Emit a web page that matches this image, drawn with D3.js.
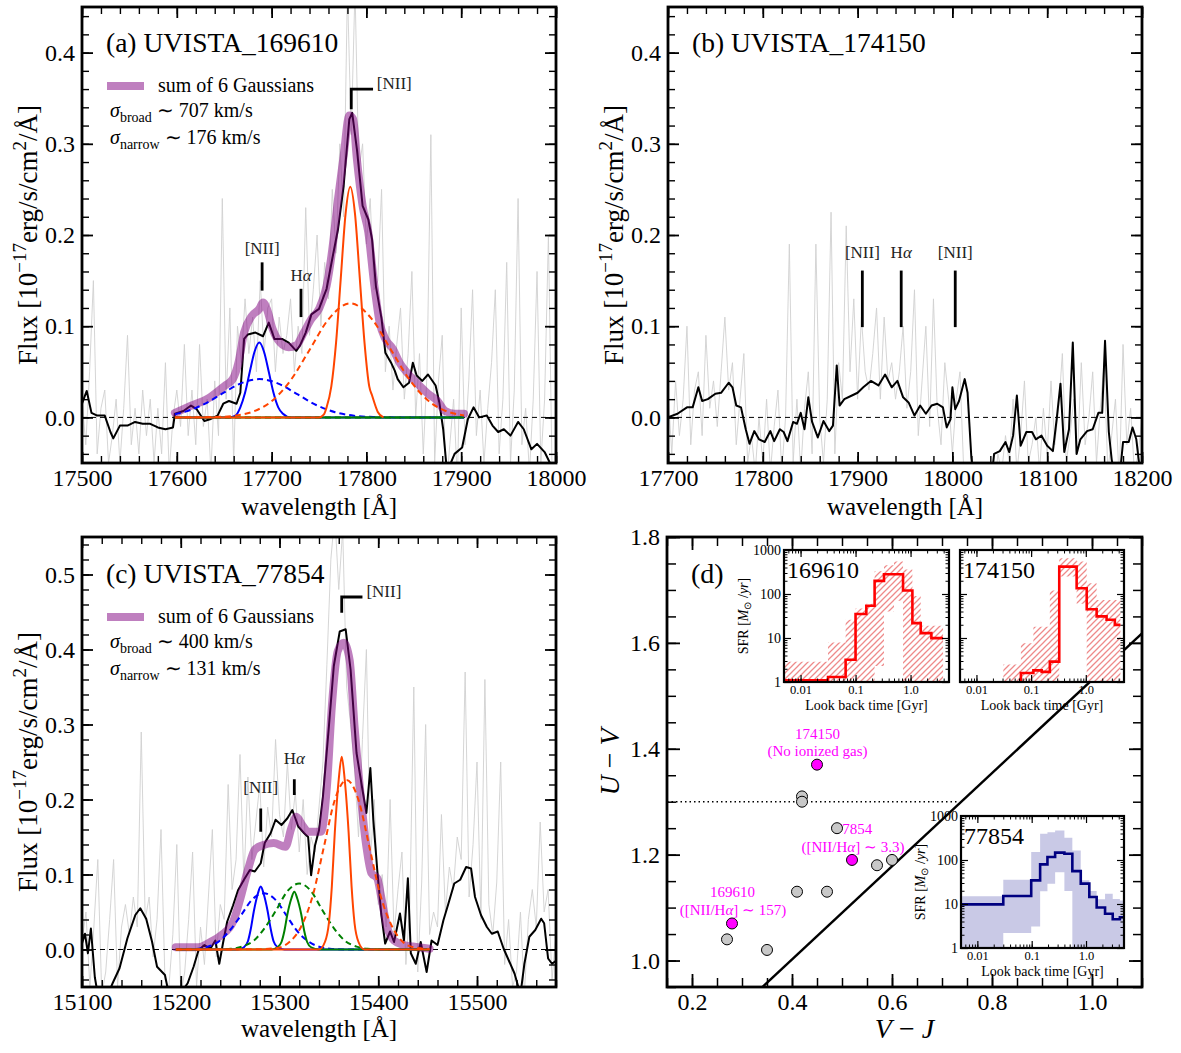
<!DOCTYPE html>
<html>
<head>
<meta charset="utf-8">
<script src="https://cdn.jsdelivr.net/npm/d3@7"></script>
<style>
  body { margin: 0; background: #fff; }
  svg text { font-family: "Liberation Serif", "Times New Roman", serif; }
</style>
</head>
<body>
<svg id="fig" width="1181" height="1053"></svg>
<script>
// ---------- data ----------
const greyStep = 4;
// (a) UVISTA_169610, raw spectrum starting at 17500 A
const greyA0 = 17500;
const greyA = [0.02,-0.03,0.05,0.15,-0.04,0.01,0.03,-0.05,-0.02,0.02,
  -0.05,0.01,0.09,-0.03,0.01,-0.04,0.03,-0.02,0.02,-0.05,
  0.01,-0.04,0.06,-0.06,0.00,0.03,-0.01,0.08,-0.02,0.03,
  -0.03,0.08,-0.01,0.02,-0.06,0.04,-0.02,0.24,0.02,0.12,
  -0.05,0.10,0.06,0.13,0.07,0.11,0.05,0.15,0.07,0.12,
  0.13,0.05,0.11,0.07,0.09,0.13,0.05,0.10,0.07,0.23,
  0.09,0.14,0.20,0.10,0.17,0.13,0.25,0.18,0.30,0.22,
  0.47,0.31,0.47,0.27,0.30,0.19,0.24,0.14,0.15,0.25,
  0.05,0.10,0.03,0.08,0.12,0.02,0.07,0.16,0.00,0.07,
  -0.04,0.05,0.31,-0.05,0.04,0.09,-0.08,-0.03,0.02,-0.07,
  0.12,-0.03,0.04,0.14,-0.02,0.03,-0.05,0.01,0.06,0.14,
  -0.04,0.02,0.17,-0.05,0.03,0.24,-0.03,0.01,-0.06,0.02,
  0.16,-0.05,0.02,0.20,-0.07,-0.03];
const blackA = [[17500,0.015],[17505,0.029],[17510,0.005],[17516,0.002],[17524,0.002],[17530,-0.016],[17533,-0.023],
  [17540,-0.009],[17548,-0.009],[17556,-0.005],[17564,-0.007],[17572,-0.007],[17580,-0.011],[17588,-0.013],[17596,-0.011],
  [17598,0.004],[17607,0.007],[17615,0.013],[17621,0.009],[17629,-0.004],[17635,-0.002],[17643,0.002],[17649,0.015],
  [17655,0.018],[17663,0.015],[17667,0.027],[17671,0.086],[17675,0.091],[17683,0.093],[17691,0.089],[17697,0.104],
  [17703,0.086],[17711,0.086],[17718,0.082],[17726,0.073],[17730,0.079],[17736,0.093],[17742,0.113],[17750,0.119],
  [17758,0.141],[17764,0.174],[17770,0.206],[17776,0.254],[17782,0.327],[17785,0.334],[17790,0.294],[17796,0.232],
  [17802,0.217],[17806,0.195],[17810,0.144],[17816,0.108],[17820,0.071],[17826,0.060],[17830,0.051],[17833,0.042],
  [17839,0.033],[17845,0.038],[17849,0.060],[17853,0.046],[17859,0.040],[17865,0.047],[17873,0.035],[17877,0.016],
  [17881,-0.013],[17885,-0.06],[17893,-0.04],[17901,-0.033],[17907,-0.002],[17913,0.011],[17919,0],[17927,0.002],
  [17933,-0.009],[17939,-0.016],[17945,-0.013],[17952,-0.020],[17960,-0.005],[17966,-0.013],[17974,-0.035],
  [17980,-0.029],[17988,-0.038],[17996,-0.055],[18000,-0.05]];
const sumA = [[17598,0.005],[17611,0.011],[17635,0.022],[17651,0.035],[17659,0.042],[17665,0.060],[17671,0.093],
  [17679,0.111],[17687,0.119],[17691,0.126],[17695,0.119],[17701,0.097],[17709,0.082],[17718,0.077],[17726,0.079],
  [17734,0.093],[17742,0.108],[17750,0.119],[17758,0.144],[17764,0.184],[17770,0.239],[17776,0.287],[17782,0.331],
  [17786,0.327],[17790,0.283],[17796,0.232],[17802,0.203],[17808,0.148],[17814,0.104],[17820,0.086],[17828,0.075],
  [17835,0.060],[17843,0.049],[17853,0.038],[17865,0.026],[17875,0.018],[17883,0.007],[17893,0.004],[17903,0.004]];
const blueNarrowA = [[17598,0],[17655,0],[17662,0.002],[17667,0.011],[17672,0.027],[17677,0.050],[17682,0.072],[17687,0.082],
  [17692,0.072],[17697,0.050],[17702,0.027],[17707,0.011],[17712,0.004],[17720,0],[17903,0]];
const blueBroadA = [[17598,0.0035],[17610,0.0066],[17630,0.0152],[17650,0.0274],[17667,0.0371],[17687,0.042],[17707,0.0371],
  [17727,0.0255],[17747,0.0136],[17767,0.0057],[17787,0.0018],[17807,0.0005],[17830,0],[17903,0]];
const greenNarrowA = [[17598,0],[17903,0]];
const greenBroadA = [[17598,0],[17903,0]];
const orangeNarrowA = [[17598,0],[17750,0],[17755,0.003],[17758,0.011],[17763,0.034],[17768,0.082],[17773,0.153],[17778,0.223],
  [17783,0.253],[17788,0.223],[17793,0.153],[17798,0.082],[17803,0.034],[17806,0.024],[17812,0.006],[17818,0]];
const orangeBroadA = [[17598,0],[17640,0.0004],[17660,0.0017],[17680,0.0062],[17700,0.0177],[17720,0.0406],[17740,0.074],
  [17760,0.1076],[17783,0.125],[17806,0.1076],[17826,0.074],[17846,0.0406],[17866,0.0177],[17886,0.0062],[17903,0.0021]];

// (b) UVISTA_174150
const greyB0 = 17700;
const greyB = [0.03,-0.04,0.04,-0.02,0.02,0.10,-0.03,0.03,0.05,-0.02,
  0.09,0.01,0.04,-0.01,0.05,0.11,0.03,0.06,-0.03,0.02,
  0.07,-0.05,-0.02,-0.06,0.00,-0.05,0.02,-0.06,-0.01,0.03,
  -0.06,0.00,0.19,-0.05,0.02,-0.06,0.01,0.05,-0.04,0.19,
  0.00,-0.05,0.02,0.225,-0.04,0.06,0.02,0.21,0.05,0.13,
  0.02,0.11,0.05,0.03,0.07,0.12,0.02,0.11,0.04,0.06,
  0.02,0.05,0.10,0.01,0.05,0.14,-0.02,0.04,0.10,-0.01,
  0.13,0.01,-0.03,0.06,0.02,-0.04,0.02,0.05,-0.06,-0.08,
  -0.07,-0.09,-0.06,-0.08,-0.07,-0.05,-0.08,-0.04,-0.06,-0.02,
  -0.05,0.02,-0.06,-0.02,0.04,-0.05,-0.03,0.00,-0.06,0.01,
  -0.04,0.04,-0.03,0.01,0.07,-0.05,-0.02,0.02,-0.04,0.06,
  -0.03,0.00,0.05,-0.05,0.01,0.06,-0.06,-0.02,0.02,-0.07,
  0.08,-0.03,0.01,-0.06,-0.04,0.00];
const blackB = [[17700,0],[17710,0.004],[17720,0.011],[17726,0.011],[17732,0.033],[17736,0.018],[17742,0.020],[17750,0.026],
  [17756,0.027],[17764,0.038],[17768,0.033],[17772,0.013],[17777,0.011],[17782,-0.013],[17786,-0.029],[17791,-0.015],
  [17796,-0.024],[17802,-0.027],[17808,-0.015],[17812,-0.026],[17818,-0.013],[17822,-0.016],[17826,-0.026],[17832,-0.005],
  [17836,-0.007],[17840,0.005],[17844,-0.013],[17848,0.022],[17852,-0.005],[17858,-0.022],[17864,-0.004],[17870,-0.015],
  [17874,-0.009],[17878,0.057],[17881,0.013],[17886,0.020],[17894,0.024],[17900,0.027],[17906,0.033],[17914,0.040],
  [17922,0.035],[17929,0.047],[17936,0.033],[17942,0.040],[17948,0.022],[17954,0.016],[17960,0.002],[17966,0.013],
  [17972,0.004],[17978,0.013],[17984,0.015],[17990,0.011],[17994,-0.011],[17998,-0.002],[18000,0.033],[18003,0.009],
  [18007,0.018],[18013,0.042],[18016,0.027],[18020,-0.044],[18024,-0.08],[18040,-0.08],[18044,-0.040],[18050,-0.037],
  [18056,-0.027],[18060,-0.038],[18064,-0.020],[18068,0.024],[18072,-0.031],[18078,-0.016],[18084,-0.016],[18088,-0.024],
  [18094,-0.020],[18100,-0.031],[18106,-0.037],[18110,-0.002],[18114,0.037],[18118,-0.038],[18123,-0.013],[18127,0.082],
  [18131,-0.040],[18135,-0.024],[18142,-0.015],[18148,-0.013],[18154,0.005],[18158,0.005],[18161,0.084],[18165,-0.016],
  [18168,-0.046],[18172,-0.07],[18176,-0.07],[18180,-0.027],[18186,-0.027],[18190,-0.011],[18194,-0.024],[18198,-0.06],[18200,-0.07]];

// (c) UVISTA_77854
const greyC0 = 15100;
const greyC = [0.01,0.05,-0.05,0.03,0.12,-0.06,-0.03,0.04,0.12,-0.05,
  0.03,0.06,0.02,0.07,0.03,0.29,0.04,0.07,-0.01,0.04,
  0.16,-0.04,-0.05,0.02,0.14,-0.06,-0.03,0.04,0.13,-0.05,
  0.03,-0.02,0.07,0.16,-0.01,0.06,0.04,0.22,0.08,0.12,
  0.26,0.09,0.23,0.12,0.17,0.22,0.11,0.19,0.15,0.28,
  0.18,0.15,0.25,0.16,0.21,0.13,0.20,0.10,0.15,0.13,
  0.19,0.25,0.38,0.52,0.58,0.48,0.56,0.35,0.30,0.24,
  0.15,0.28,0.40,0.12,0.20,0.06,0.10,0.03,0.20,0.02,
  0.08,0.13,-0.02,0.06,0.35,-0.03,0.09,0.30,0.02,0.05,
  0.03,0.18,0.05,0.11,0.08,0.15,0.12,0.37,0.07,0.14,
  0.25,0.04,0.36,0.06,0.02,0.09,0.25,-0.02,0.04,-0.05,
  -0.03,0.05,-0.06,0.04,0.08,0.03,0.17,0.05,0.08,-0.04,
  0.02];
const blackC = [[15100,0.008],[15103,0.021],[15106,-0.005],[15109,0.028],[15113,-0.037],[15116,-0.06],[15123,-0.07],
  [15131,-0.045],[15138,-0.025],[15146,0.015],[15154,0.046],[15159,0.055],[15165,0.041],[15171,0.010],[15176,-0.023],
  [15184,-0.034],[15188,-0.06],[15199,-0.06],[15207,-0.045],[15213,-0.023],[15218,-0.001],[15224,0.006],[15230,0.001],
  [15235,0.012],[15239,-0.019],[15243,0.010],[15247,0.037],[15253,0.059],[15258,0.079],[15264,0.093],[15270,0.106],
  [15275,0.104],[15281,0.115],[15285,0.142],[15291,0.155],[15296,0.173],[15302,0.166],[15308,0.175],[15313,0.186],
  [15319,0.164],[15325,0.155],[15329,0.150],[15332,0.099],[15336,0.139],[15340,0.159],[15344,0.204],[15350,0.297],
  [15355,0.378],[15361,0.424],[15367,0.427],[15372,0.373],[15378,0.262],[15384,0.213],[15388,0.182],[15392,0.242],
  [15395,0.173],[15399,0.106],[15403,0.048],[15407,0.008],[15412,0.024],[15416,0.010],[15422,0.048],[15426,0.012],
  [15430,0.095],[15433,-0.005],[15438,-0.019],[15443,0.010],[15449,-0.030],[15454,0.012],[15460,0.006],[15466,0.039],
  [15471,0.061],[15477,0.088],[15483,0.093],[15489,0.110],[15494,0.108],[15498,0.070],[15504,0.046],[15510,0.030],
  [15515,0.021],[15521,0.024],[15527,0.001],[15532,-0.014],[15538,-0.032],[15544,-0.06],[15548,-0.019],[15553,0.017],
  [15559,0.026],[15565,0.041],[15568,0.035],[15572,-0.012],[15576,-0.019],[15580,-0.015]];
const sumC = [[15195,0.003],[15218,0.003],[15230,0.010],[15241,0.019],[15253,0.037],[15260,0.066],[15268,0.106],
  [15275,0.133],[15283,0.139],[15294,0.142],[15306,0.137],[15312,0.162],[15317,0.177],[15323,0.166],[15329,0.157],
  [15342,0.157],[15348,0.217],[15353,0.324],[15359,0.398],[15365,0.409],[15371,0.386],[15376,0.297],[15382,0.208],
  [15388,0.137],[15393,0.102],[15399,0.095],[15403,0.070],[15409,0.030],[15416,0.012],[15426,0.006],[15435,0.004],[15452,0.001]];
const blueNarrowC = [[15195,0],[15258,0],[15264,0.003],[15268,0.011],[15271,0.028],[15274,0.051],[15278,0.074],[15281,0.084],
  [15284,0.074],[15288,0.051],[15291,0.028],[15294,0.011],[15298,0.003],[15305,0],[15452,0]];
const blueBroadC = [[15195,0.0002],[15215,0.0008],[15226,0.0033],[15238,0.0101],[15249,0.0244],[15261,0.0455],[15272,0.0662],
  [15284,0.075],[15296,0.0662],[15307,0.0455],[15318,0.0244],[15330,0.0101],[15341,0.0033],[15353,0.0008],[15375,0],[15452,0]];
const greenNarrowC = [[15195,0],[15292,0],[15298,0.003],[15302,0.010],[15305,0.025],[15308,0.047],[15312,0.068],[15315,0.077],
  [15318,0.068],[15322,0.047],[15325,0.025],[15328,0.010],[15332,0.003],[15340,0],[15452,0]];
const greenBroadC = [[15195,0],[15240,0.0003],[15251,0.001],[15262,0.0039],[15274,0.0119],[15285,0.0286],[15297,0.0534],
  [15308,0.0777],[15320,0.088],[15332,0.0777],[15343,0.0534],[15355,0.0286],[15366,0.0119],[15378,0.0039],[15389,0.001],[15410,0],[15452,0]];
const orangeNarrowC = [[15195,0],[15340,0],[15346,0.010],[15350,0.035],[15353,0.084],[15356,0.156],[15360,0.227],[15363,0.257],
  [15366,0.227],[15370,0.156],[15373,0.084],[15376,0.035],[15380,0.010],[15386,0],[15452,0]];
const orangeBroadC = [[15195,0],[15280,0.0003],[15299,0.0025],[15310,0.0099],[15322,0.0306],[15334,0.0734],[15345,0.137],
  [15356,0.1994],[15368,0.226],[15380,0.1994],[15391,0.137],[15402,0.0734],[15414,0.0306],[15425,0.0099],[15437,0.0025],[15452,0.0005]];

// emission line markers: wavelength, tick bottom/top, label height
const markA = [{t:"[NII]", x:17690, y0:0.139, y1:0.170, ty:0.186}, {t:"Hα", x:17731, y0:0.110, y1:0.141, ty:0.156}];
const bracketA = {t:"[NII]", x:17784, y0:0.338, y1:0.360, x1:17807, tx:17811, ty:0.366};
const markB = [{t:"[NII]", x:17905, y0:0.099, y1:0.161, ty:0.181}, {t:"Hα", x:17946, y0:0.099, y1:0.161, ty:0.181},
  {t:"[NII]", x:18003, y0:0.099, y1:0.161, ty:0.181}];
const markC = [{t:"[NII]", x:15281, y0:0.157, y1:0.188, ty:0.217}, {t:"Hα", x:15315, y0:0.206, y1:0.227, ty:0.256}];
const bracketC = {t:"[NII]", x:15363, y0:0.449, y1:0.470, x1:15384, tx:15388, ty:0.477};

// (d) UVJ diagram
const greyVJ = [0.42, 0.42, 0.49, 0.57, 0.60, 0.41, 0.47, 0.27, 0.35];
const greyUV = [1.31, 1.30, 1.25, 1.18, 1.19, 1.13, 1.13, 1.04, 1.02];
const magVJ = [0.45, 0.52, 0.28];
const magUV = [1.37, 1.19, 1.07];
const magLabels = [[0.451, 1.428, "174150"], [0.451, 1.396, "(No ionized gas)"],
  [0.523, 1.248, "77854"], [0.522, 1.215, "([NII/Hα] ∼ 3.3)"],
  [0.281, 1.129, "169610"], [0.282, 1.096, "([NII/Hα] ∼ 157)"]];
const wedgeSlope = 0.88, wedgeIntercept = 0.65, wedgeUV = 1.3, wedgeCorner = 0.735;

// star formation histories (lookback time bin edges in Gyr, SFR in Msun/yr)
const sfhEdges1 = [0.005, 0.0316, 0.066, 0.1, 0.157, 0.222, 0.329, 0.73, 1.08, 1.53, 2.39, 3.9];
const sfh1 = [1.09, 1.3, 3.2, 35, 54, 199, 281, 120, 21.8, 12.9, 9.95];
const bandEdges1 = [0.005, 0.0316, 0.066, 0.1, 0.157, 0.222, 0.329, 0.5, 0.73, 1.08, 1.53, 3.9];
const bandLo1 = [1, 1, 1, 1, 1, 2.3, 40, 70, 1, 1, 1];
const bandHi1 = [2.9, 7.9, 26, 47, 60, 330, 450, 550, 360, 90, 19];

const sfhEdges2 = [0.065, 0.11, 0.156, 0.22, 0.327, 0.68, 1.04, 1.58, 2.4, 3.4, 4.3];
const sfh2 = [1.6, 1.84, 1.7, 2.9, 420, 135, 45, 31, 26, 19.9];
const bandEdges2 = [0.031, 0.065, 0.11, 0.22, 0.327, 0.68, 1.04, 1.58, 4.3];
const bandLo2 = [1, 1, 1, 1, 250, 60, 1, 1];
const bandHi2 = [2.5, 7.6, 18, 120, 650, 550, 176, 73];

const sfhEdges3 = [0.005, 0.03, 0.098, 0.143, 0.195, 0.27, 0.40, 0.56, 0.8, 1.15, 1.57, 2.24, 3.1, 4.2, 5];
const sfh3 = [9.8, 15.2, 34.5, 79.7, 117, 147, 139, 56, 29, 14.4, 8.3, 6.0, 4.5, 5.0];
const bandLo3 = [1, 2.2, 3.1, 19.4, 29, 53, 19.7, 1, 1, 1, 1, 1, 1, 1];
const bandHi3 = [15, 35.7, 152, 395, 430, 470, 320, 165, 34.5, 19.7, 12.8, 17, 13, 12];

const insetXTicks = [0.01, 0.1, 1], insetXLabels = ["0.01", "0.1", "1.0"];
const insetYTicks = [1, 10, 100, 1000];

// ---------- drawing ----------
const svg = d3.select("#fig");
svg.append("rect").attr("width", 1181).attr("height", 1053).attr("fill", "#fff");
const defs = svg.append("defs");
const SERIF = '"Liberation Serif", "Times New Roman", serif';
let clipCount = 0;

const hatch = defs.append("pattern").attr("id", "hatch").attr("patternUnits", "userSpaceOnUse")
  .attr("width", 6).attr("height", 6);
hatch.append("path").attr("d", "M-1,1 l2,-2 M0,6 l6,-6 M5,7 l2,-2")
  .attr("stroke", "#ee8a8a").attr("stroke-width", 1.3);

let makePanel = (box, xd, yd, log) => {
  const x = (log ? d3.scaleLog() : d3.scaleLinear()).domain(xd).range([box.l, box.r]);
  const y = (log ? d3.scaleLog() : d3.scaleLinear()).domain(yd).range([box.b, box.t]);
  const id = "clip" + (clipCount++);
  defs.append("clipPath").attr("id", id).append("rect")
    .attr("x", box.l).attr("y", box.t).attr("width", box.r - box.l).attr("height", box.b - box.t);
  const g = svg.append("g");
  const plot = g.append("g").attr("clip-path", "url(#" + id + ")");
  return {x, y, g, plot, box};
};

let drawAxes = (p, o) => {
  const {x, y, box} = p;
  const a = p.g.append("g");
  const sides = [
    [d3.axisBottom, x, "translate(0," + box.b + ")", o.xFmt],
    [d3.axisTop, x, "translate(0," + box.t + ")", null],
    [d3.axisLeft, y, "translate(" + box.l + ",0)", o.yFmt],
    [d3.axisRight, y, "translate(" + box.r + ",0)", null]];
  sides.forEach(([fn, sc, tr, fmt], i) => {
    const isX = i < 2;
    const gm = a.append("g").attr("transform", tr)
      .call(fn(sc).tickValues(isX ? o.xMinor : o.yMinor).tickSize(-o.minLen).tickFormat(""));
    gm.select(".domain").remove();
    gm.selectAll("line").attr("stroke-width", o.minW);
    const gM = a.append("g").attr("transform", tr)
      .call(fn(sc).tickValues(isX ? o.xMajor : o.yMajor).tickSize(-o.majLen)
        .tickPadding(isX ? o.padX : o.padY).tickFormat(fmt || ""));
    gM.select(".domain").remove();
    gM.selectAll("line").attr("stroke-width", o.majW);
    gM.attr("font-family", SERIF).attr("font-size", isX ? o.fs : (o.fsY || o.fs));
    gM.selectAll("text").attr("fill", "#000");
  });
  a.append("rect").attr("x", box.l).attr("y", box.t)
    .attr("width", box.r - box.l).attr("height", box.b - box.t)
    .attr("fill", "none").attr("stroke", "#000").attr("stroke-width", o.frameW);
};

let range = (a, b, s) => d3.range(Math.round((b - a) / s) + 1).map(i => +(a + i * s).toFixed(4));

let lineOf = (p) => d3.line().x(d => p.x(d[0])).y(d => p.y(d[1]));

let spectrumPanel = (box, xd, yd, grey0, grey, black) => {
  const p = makePanel(box, xd, yd, false);
  p.plot.append("path").datum(grey.map((f, i) => [grey0 + i * greyStep, f]))
    .attr("d", lineOf(p)).attr("fill", "none").attr("stroke", "#d0d0d0").attr("stroke-width", 0.9);
  p.plot.append("line").attr("x1", box.l).attr("x2", box.r).attr("y1", p.y(0)).attr("y2", p.y(0))
    .attr("stroke", "#000").attr("stroke-width", 1).attr("stroke-dasharray", "5,4");
  p.plot.append("path").datum(black).attr("d", lineOf(p))
    .attr("fill", "none").attr("stroke", "#000").attr("stroke-width", 2).attr("stroke-linejoin", "round");
  return p;
};

let drawFit = (p, sum, comps) => {
  p.plot.append("path").datum(sum).attr("d", lineOf(p).curve(d3.curveMonotoneX))
    .attr("fill", "none").attr("stroke", "purple").attr("stroke-opacity", 0.5)
    .attr("stroke-width", 8).attr("stroke-linejoin", "round").attr("stroke-linecap", "round");
  comps.forEach(([data, color, dashed]) => {
    p.plot.append("path").datum(data).attr("d", lineOf(p).curve(d3.curveMonotoneX))
      .attr("fill", "none").attr("stroke", color).attr("stroke-width", 2)
      .attr("stroke-dasharray", dashed ? "6,4" : null);
  });
};

let richText = (sel, s) => {
  // italic alpha as in mathtext
  s.split(/(α)/).forEach(part => {
    if (!part) return;
    sel.append("tspan").attr("font-style", part === "α" ? "italic" : null).text(part);
  });
};

let drawMarkers = (p, marks, bracket) => {
  marks.forEach(m => {
    p.g.append("line").attr("x1", p.x(m.x)).attr("x2", p.x(m.x)).attr("y1", p.y(m.y0)).attr("y2", p.y(m.y1))
      .attr("stroke", "#000").attr("stroke-width", 2.8);
    const t = p.g.append("text").attr("x", p.x(m.x)).attr("y", p.y(m.ty)).attr("text-anchor", "middle")
      .attr("dominant-baseline", "central").attr("font-size", 17).attr("fill", "#222");
    richText(t, m.t);
  });
  if (bracket) {
    p.g.append("path")
      .attr("d", "M" + p.x(bracket.x) + "," + p.y(bracket.y0) + "V" + p.y(bracket.y1) + "H" + p.x(bracket.x1))
      .attr("fill", "none").attr("stroke", "#000").attr("stroke-width", 2.8);
    p.g.append("text").attr("x", p.x(bracket.tx)).attr("y", p.y(bracket.ty)).attr("dominant-baseline", "central")
      .attr("font-size", 17).attr("fill", "#222").text(bracket.t);
  }
};

let fluxLabel = (cx, cy) => {
  const t = svg.append("text").attr("transform", "translate(" + cx + "," + cy + ") rotate(-90)")
    .attr("text-anchor", "middle").attr("font-size", 27);
  t.append("tspan").text("Flux [10");
  t.append("tspan").attr("font-size", 19).attr("dy", -11).text("−17");
  t.append("tspan").attr("dy", 11).text("erg/s/cm");
  t.append("tspan").attr("font-size", 19).attr("dy", -11).text("2");
  t.append("tspan").attr("dy", 11).text("/Å]");
};

let xLabel = (cx, y) => svg.append("text").attr("x", cx).attr("y", y).attr("text-anchor", "middle")
  .attr("font-size", 25).text("wavelength [Å]");

let legendBlock = (p, y0, broad, narrow) => {
  const l = p.box.l;
  p.g.append("line").attr("x1", l + 25).attr("x2", l + 62).attr("y1", y0).attr("y2", y0)
    .attr("stroke", "purple").attr("stroke-opacity", 0.5).attr("stroke-width", 8);
  p.g.append("text").attr("x", l + 76).attr("y", y0 + 6).attr("font-size", 20).text("sum of 6 Gaussians");
  [["broad", broad, 31], ["narrow", narrow, 58]].forEach(([sub, val, dy]) => {
    const t = p.g.append("text").attr("x", l + 28).attr("y", y0 + dy).attr("font-size", 20);
    t.append("tspan").attr("font-style", "italic").text("σ");
    t.append("tspan").attr("font-size", 14).attr("dy", 5).text(sub);
    t.append("tspan").attr("dy", -5).text(" ∼ " + val + " km/s");
  });
};

const specAxes = (xMajor, xMinor, yMajor, yMinor) => ({
  xMajor, xMinor, yMajor, yMinor, xFmt: d3.format("d"), yFmt: d3.format(".1f"),
  majLen: 11, minLen: 7, majW: 1.8, minW: 1.4, padX: 6, padY: 7, fs: 24, frameW: 2.8});

// panel (a)
const boxA = {l: 82, r: 556, t: 7, b: 463};
const pA = spectrumPanel(boxA, [17500, 18000], [-0.05, 0.45], greyA0, greyA, blackA);
drawFit(pA, sumA, [[blueBroadA, "#0000ff", true], [blueNarrowA, "#0000ff", false],
  [greenBroadA, "#008000", true], [greenNarrowA, "#008000", false],
  [orangeBroadA, "orangered", true], [orangeNarrowA, "orangered", false]]);
drawMarkers(pA, markA, bracketA);
pA.g.append("text").attr("x", boxA.l + 24).attr("y", boxA.t + 45).attr("font-size", 27.5).text("(a) UVISTA_169610");
legendBlock(pA, boxA.t + 79, "707", "176");
drawAxes(pA, specAxes(range(17500, 18000, 100), range(17500, 18000, 20), range(0, 0.4, 0.1), range(-0.04, 0.44, 0.02)));
fluxLabel(37, (boxA.t + boxA.b) / 2);
xLabel((boxA.l + boxA.r) / 2, 515);

// panel (b)
const boxB = {l: 668, r: 1142, t: 7, b: 463};
const pB = spectrumPanel(boxB, [17700, 18200], [-0.05, 0.45], greyB0, greyB, blackB);
drawMarkers(pB, markB, null);
pB.g.append("text").attr("x", boxB.l + 24).attr("y", boxB.t + 45).attr("font-size", 27.5).text("(b) UVISTA_174150");
drawAxes(pB, specAxes(range(17700, 18200, 100), range(17700, 18200, 20), range(0, 0.4, 0.1), range(-0.04, 0.44, 0.02)));
fluxLabel(623, (boxB.t + boxB.b) / 2);
xLabel((boxB.l + boxB.r) / 2, 515);

// panel (c)
const boxC = {l: 82, r: 556, t: 537, b: 987};
const pC = spectrumPanel(boxC, [15100, 15580], [-0.05, 0.55], greyC0, greyC, blackC);
drawFit(pC, sumC, [[blueBroadC, "#0000ff", true], [blueNarrowC, "#0000ff", false],
  [greenBroadC, "#008000", true], [greenNarrowC, "#008000", false],
  [orangeBroadC, "orangered", true], [orangeNarrowC, "orangered", false]]);
drawMarkers(pC, markC, bracketC);
pC.g.append("text").attr("x", boxC.l + 24).attr("y", boxC.t + 46).attr("font-size", 27.5).text("(c) UVISTA_77854");
legendBlock(pC, boxC.t + 80, "400", "131");
drawAxes(pC, specAxes(range(15100, 15500, 100), range(15100, 15580, 20), range(0, 0.5, 0.1), range(-0.04, 0.54, 0.02)));
fluxLabel(37, (boxC.t + boxC.b) / 2);
xLabel((boxC.l + boxC.r) / 2, 1037);

// panel (d)
const boxD = {l: 667, r: 1142, t: 537, b: 987};
const pD = makePanel(boxD, [0.15, 1.1], [0.95, 1.8], false);
pD.plot.append("line").attr("x1", pD.x(0.15)).attr("x2", pD.x(wedgeCorner))
  .attr("y1", pD.y(wedgeUV)).attr("y2", pD.y(wedgeUV))
  .attr("stroke", "#000").attr("stroke-width", 1.5).attr("stroke-dasharray", "1.5,3");
pD.plot.append("path").datum([0.15, 1.1].map(v => [v, wedgeSlope * v + wedgeIntercept]))
  .attr("d", lineOf(pD)).attr("stroke", "#000").attr("stroke-width", 2.4);
magLabels.forEach(([vx, vy, s]) => {
  const t = pD.plot.append("text").attr("x", pD.x(vx)).attr("y", pD.y(vy)).attr("text-anchor", "middle")
    .attr("dominant-baseline", "central").attr("font-size", 15).attr("fill", "#ff00ff");
  richText(t, s);
});
pD.plot.selectAll("circle.grey").data(greyVJ).enter().append("circle").attr("class", "grey")
  .attr("cx", d => pD.x(d)).attr("cy", (d, i) => pD.y(greyUV[i])).attr("r", 5.5)
  .attr("fill", "#c8c8c8").attr("stroke", "#000").attr("stroke-width", 1);
pD.plot.selectAll("circle.mag").data(magVJ).enter().append("circle").attr("class", "mag")
  .attr("cx", d => pD.x(d)).attr("cy", (d, i) => pD.y(magUV[i])).attr("r", 5.5)
  .attr("fill", "#ff00ff").attr("stroke", "#000").attr("stroke-width", 1);
pD.g.append("text").attr("x", boxD.l + 24).attr("y", boxD.t + 46).attr("font-size", 28).text("(d)");
drawAxes(pD, {xMajor: range(0.2, 1.0, 0.2), xMinor: range(0.15, 1.1, 0.05), yMajor: range(1.0, 1.8, 0.2),
  yMinor: range(0.95, 1.8, 0.05), xFmt: d3.format(".1f"), yFmt: d3.format(".1f"),
  majLen: 13, minLen: 9, majW: 1.8, minW: 1.5, padX: 6, padY: 7, fs: 24, frameW: 2.8});
{
  const t = svg.append("text").attr("x", (boxD.l + boxD.r) / 2).attr("y", 1038)
    .attr("text-anchor", "middle").attr("font-size", 28);
  t.append("tspan").attr("font-style", "italic").text("V");
  t.append("tspan").text(" − ");
  t.append("tspan").attr("font-style", "italic").text("J");
  const u = svg.append("text").attr("transform", "translate(619," + (boxD.t + boxD.b) / 2 + ") rotate(-90)")
    .attr("text-anchor", "middle").attr("font-size", 28);
  u.append("tspan").attr("font-style", "italic").text("U");
  u.append("tspan").text(" − ");
  u.append("tspan").attr("font-style", "italic").text("V");
}

// insets with star formation histories
let stepPoints = (edges, vals) => vals.map((v, i) => [edges[i], v]).concat([[edges[edges.length - 1], vals[vals.length - 1]]]);

let inset = (box, name, cfg) => {
  const p = makePanel(box, [0.005, 5], [1, 1000], true);
  p.g.insert("rect", ":first-child").attr("x", box.l).attr("y", box.t)
    .attr("width", box.r - box.l).attr("height", box.b - box.t).attr("fill", "#fff");
  const area = d3.area().curve(d3.curveStepAfter).x(d => p.x(d[0])).y0(d => p.y(d[1])).y1(d => p.y(d[2]));
  const bandData = cfg.bandLo.map((v, i) => [cfg.bandEdges[i], v, cfg.bandHi[i]])
    .concat([[cfg.bandEdges[cfg.bandEdges.length - 1], cfg.bandLo[cfg.bandLo.length - 1], cfg.bandHi[cfg.bandHi.length - 1]]]);
  p.plot.append("path").datum(bandData).attr("d", area).attr("fill", cfg.fill);
  const pts = stepPoints(cfg.edges, cfg.sfr);
  if (cfg.fromBottom) pts.unshift([cfg.edges[0], 0.9]);
  p.plot.append("path").datum(pts).attr("d", lineOf(p).curve(d3.curveStepAfter))
    .attr("fill", "none").attr("stroke", cfg.color).attr("stroke-width", 2.6);
  const xMinor = p.x.ticks(), yMinor = p.y.ticks();
  drawAxes(p, {xMajor: insetXTicks, xMinor, yMajor: insetYTicks, yMinor,
    xFmt: d => insetXLabels[insetXTicks.indexOf(d)], yFmt: cfg.yLabels ? d3.format("d") : null,
    majLen: 7, minLen: 3.5, majW: 1.2, minW: 1, padX: 3, padY: 3, fs: 12.5, fsY: 14, frameW: 2.2});
  p.g.append("text").attr("x", box.l + 3).attr("y", box.t + 28).attr("font-size", 24).text(name);
  p.g.append("text").attr("x", (box.l + box.r) / 2).attr("y", box.b + 28).attr("text-anchor", "middle")
    .attr("font-size", 14).text("Look back time [Gyr]");
  if (cfg.yLabels) {
    const t = p.g.append("text").attr("transform", "translate(" + (box.l - 36) + "," + (box.t + box.b) / 2 + ") rotate(-90)")
      .attr("text-anchor", "middle").attr("font-size", 14);
    t.append("tspan").text("SFR [");
    t.append("tspan").attr("font-style", "italic").text("M");
    t.append("tspan").attr("font-size", 10).attr("dy", 3).text("⊙");
    t.append("tspan").attr("dy", -3).text(" /");
    t.append("tspan").attr("font-style", "italic").text("yr");
    t.append("tspan").text("]");
  }
};

inset({l: 784, r: 949, t: 550, b: 682}, "169610", {edges: sfhEdges1, sfr: sfh1, bandEdges: bandEdges1,
  bandLo: bandLo1, bandHi: bandHi1, fill: "url(#hatch)", color: "#ff0000", yLabels: true});
inset({l: 960, r: 1124, t: 550, b: 682}, "174150", {edges: sfhEdges2, sfr: sfh2, bandEdges: bandEdges2,
  bandLo: bandLo2, bandHi: bandHi2, fill: "url(#hatch)", color: "#ff0000", yLabels: false, fromBottom: true});
inset({l: 961, r: 1124, t: 816, b: 948}, "77854", {edges: sfhEdges3, sfr: sfh3, bandEdges: sfhEdges3,
  bandLo: bandLo3, bandHi: bandHi3, fill: "#c9c9e6", color: "#000080", yLabels: true});
</script>
</body>
</html>
